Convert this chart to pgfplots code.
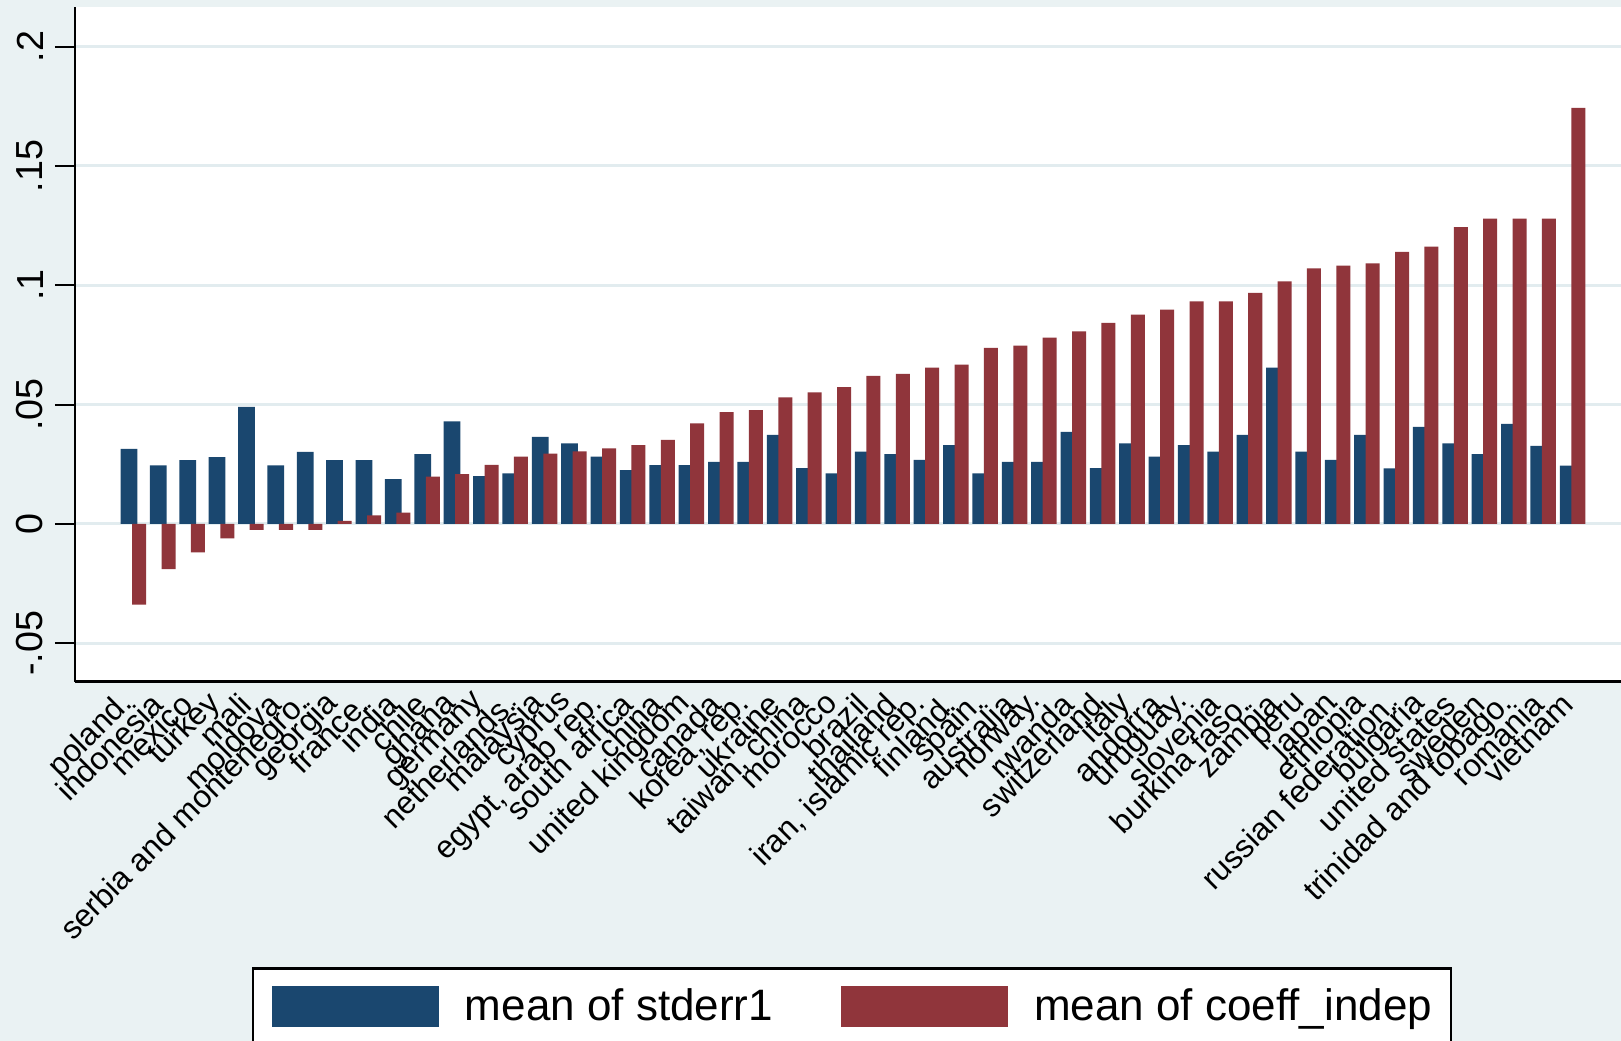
\documentclass[border=0pt]{standalone}
\usepackage{fontspec}
\setmainfont{Liberation Sans}
\usepackage{pgfplots}
\usepackage{pgfplotstable}
\pgfplotsset{compat=1.18}

\definecolor{stblue}{RGB}{26,71,111}
\definecolor{stred}{RGB}{144,53,59}
\definecolor{bgc}{RGB}{234,242,243}
\definecolor{gridc}{RGB}{226,236,239}

% country index, mean of stderr1, mean of coeff_indep
\pgfplotstableread{
idx se coef
0  0.0315 -0.0338
1  0.0245 -0.0189
2  0.0267 -0.0119
3  0.0280 -0.0060
4  0.0490 -0.0025
5  0.0245 -0.0025
6  0.0302 -0.0025
7  0.0267  0.0013
8  0.0267  0.0036
9  0.0188  0.0047
10 0.0293  0.0198
11 0.0430  0.0209
12 0.0200  0.0247
13 0.0212  0.0282
14 0.0365  0.0295
15 0.0338  0.0304
16 0.0282  0.0317
17 0.0225  0.0330
18 0.0246  0.0352
19 0.0246  0.0421
20 0.0260  0.0469
21 0.0260  0.0477
22 0.0373  0.0530
23 0.0234  0.0551
24 0.0212  0.0573
25 0.0303  0.0620
26 0.0293  0.0629
27 0.0268  0.0655
28 0.0330  0.0668
29 0.0212  0.0738
30 0.0260  0.0747
31 0.0260  0.0781
32 0.0386  0.0807
33 0.0234  0.0842
34 0.0338  0.0877
35 0.0282  0.0898
36 0.0330  0.0933
37 0.0303  0.0933
38 0.0373  0.0968
39 0.0655  0.1016
40 0.0303  0.1071
41 0.0268  0.1082
42 0.0373  0.1092
43 0.0233  0.1140
44 0.0407  0.1162
45 0.0338  0.1244
46 0.0292  0.1279
47 0.0419  0.1279
48 0.0327  0.1279
49 0.0244  0.1743
}\countrydata

\begin{document}
\begin{tikzpicture}
\path[use as bounding box, fill=bgc] (-22.5pt,-107.79pt) rectangle (463.8pt,204.51pt);
\begin{axis}[
  at={(0pt,0pt)}, anchor=south west,
  scale only axis, width=463.8pt, height=202.41pt,
  xmin=-1.988, xmax=50.65, ymin=-0.0661, ymax=0.2166,
  enlargelimits=false,
  axis x line*=bottom, axis y line*=left,
  axis line style={black, line width=0.8pt},
  axis background/.style={fill=white},
  ytick={-0.05,0,0.05,0.1,0.15,0.2},
  yticklabels={-.05,0,.05,.1,.15,.2},
  xtick={0,...,49},
  xticklabels={poland., indonesia, mexico, turkey, mali, moldova,
    serbia and montenegro., georgia, france., india, chile, ghana,
    germany, netherlands., malaysia, cyprus, {egypt, arab rep.},
    south africa, china, united kingdom, canada, {korea, rep.},
    ukraine, {taiwan, china}, morocco, brazil, thailand,
    {iran, islamic rep.}, finland., spain., australia, norway.,
    rwanda, switzerland, italy, andorra, uruguay., slovenia,
    burkina faso., zambia, peru, japan, ethiopia,
    russian federation., bulgaria, united states, sweden,
    trinidad and tobago., romania, vietnam},
  tick align=outside,
  major tick length=6pt,
  ytick style={black, line width=0.6pt},
  xtick style={draw=none},
  yticklabel style={rotate=90, anchor=south, font=\fontsize{11.3}{13}\selectfont},
  xticklabel style={font=\fontsize{9.5}{11}\selectfont, xshift=0.8pt, yshift=3.3pt, rotate=45, anchor=east},
  ymajorgrids,
  major grid style={gridc, line width=0.9pt},
  legend columns=2,
  legend style={at={(0.5026,-0.4229)}, anchor=north, draw=black, line width=0.8pt,
    fill=white, inner xsep=5.7pt, inner ysep=5.4pt, column sep=7.8pt,
    /tikz/every even column/.append style={column sep=20.4pt},
    nodes={inner sep=0pt}, font=\fontsize{13.2}{15.5}\selectfont},
]
\addplot[ybar, fill=stblue, draw=none, bar width=0.569, bar shift=-0.15,
  legend image code/.code={\fill[stblue] (0pt,-6.15pt) rectangle (50.1pt,6.15pt);}]
  table[x=idx, y=se] {\countrydata};
\addlegendentry{mean of stderr1}
\addplot[ybar, fill=stred, draw=none, bar width=0.477, bar shift=0.196,
  legend image code/.code={\fill[stred] (0pt,-6.15pt) rectangle (50.1pt,6.15pt);}]
  table[x=idx, y=coef] {\countrydata};
\addlegendentry{mean of coeff\_indep}
\end{axis}
\end{tikzpicture}
\end{document}
